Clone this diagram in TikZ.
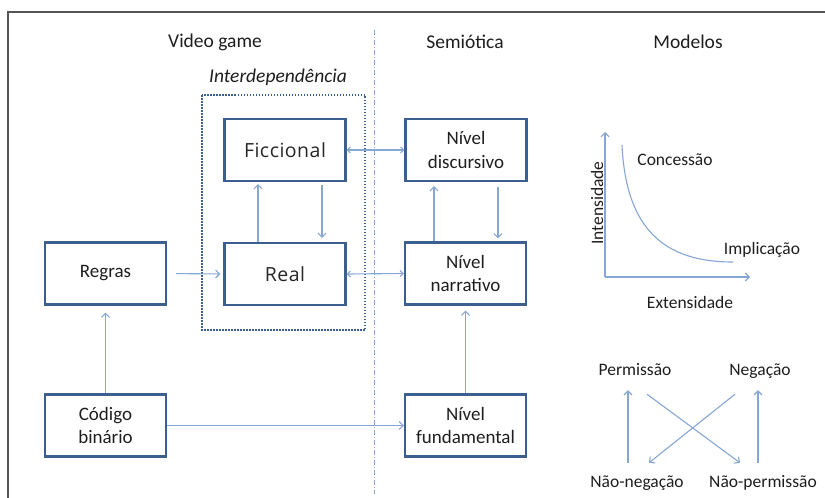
\documentclass[tikz,border=0pt]{standalone}
\usepackage{fontspec}
\setmainfont{Carlito}
\newfontfamily\widefont[LetterSpace=2.5]{Open Sans}
\usetikzlibrary{arrows.meta,calc}
\definecolor{boxblue}{HTML}{3B5F8F}
\definecolor{arrblue}{HTML}{86A6D4}
\definecolor{txt}{HTML}{1E1E1E}
\definecolor{widetxt}{HTML}{262626}
\definecolor{framegray}{HTML}{555555}
\begin{document}
\begin{tikzpicture}[x=1pt,y=-1pt,
  box/.style={draw=boxblue,line width=2.3pt,minimum width=121pt,minimum height=62pt,align=center,
    font=\fontsize{19}{23.5}\selectfont,text=txt,inner sep=0pt},
  widebox/.style={box,text=widetxt,font=\widefont\fontsize{19.5}{23}\selectfont},
  arr/.style={draw=arrblue,line width=1.1pt,-{Straight Barb[length=4pt,width=8pt]}},
  arrtwo/.style={draw=arrblue,line width=1.1pt,{Straight Barb[length=3pt,width=6pt]}-{Straight Barb[length=3pt,width=6pt]}},
  head/.style={text=txt,font=\fontsize{19.5}{22}\selectfont},
  small/.style={text=txt,font=\fontsize{17.5}{20}\selectfont,inner sep=0pt},
  lab/.style={small,anchor=base,text height=12pt,text depth=4pt}]
\useasboundingbox (0,0) rectangle (825,498);
\draw[framegray,line width=1.3pt] (8,498) -- (8,12) -- (825,12);
% separators
\draw[arrblue,line width=1pt,dash pattern=on 5pt off 2pt on 1pt off 2pt] (374,30) -- (374,494);
\draw[boxblue,line width=2pt,dash pattern=on 1.5pt off 1.5pt] (202,95) rectangle (365,330);
% headings
\node[head] (hvg) at (215,42) {Video game};
\node[head] (hsem) at (465,42) {Semiótica};
\node[head] (hmod) at (688,42) {Modelos};
\node[text=txt,font=\fontsize{19.5}{22}\selectfont\itshape] (inter) at (278,77) {Interdependência};
% boxes
\node[box] (regras) at (105.5,273.5) {Regras};
\node[widebox] (real) at (285,274) {Real};
\node[widebox] (fic) at (285,150) {Ficcional};
\node[box] (disc) at (466,150) {Nível\\discursivo};
\node[box] (narr) at (465.5,273.5) {Nível\\narrativo};
\node[box] (codigo) at (105.5,425.5) {Código\\binário};
\node[box] (fund) at (465.5,425.5) {Nível\\fundamental};
% connectors
\coordinate (xa) at (258,0);
\coordinate (xb) at (322,0);
\coordinate (xc) at (434,0);
\coordinate (xd) at (498,0);
\draw[arr,shorten >=7pt] (codigo.north) -- (regras.south);
\draw[arr,shorten <=9pt,shorten >=3pt] (regras.east) -- (real.west);
\draw[arr] (codigo.east) -- (fund.west);
\draw[arr,shorten >=5pt] (fund.north) -- (narr.south);
\draw[arrtwo] (real.east) -- (narr.west);
\draw[arrtwo] (fic.east) -- (disc.west);
\draw[arr,shorten >=2pt] (real.north -| xa) -- (fic.south -| xa);
\draw[arr,shorten <=3pt,shorten >=4pt] (fic.south -| xb) -- (real.north -| xb);
\draw[arr,shorten >=4pt] (narr.north -| xc) -- (disc.south -| xc);
\draw[arr,shorten <=5pt,shorten >=3pt] (disc.south -| xd) -- (narr.north -| xd);
% Modelos: graph
\coordinate (orig) at (605,277);
\coordinate (ytop) at (605,132);
\coordinate (xend) at (750,277);
\draw[arr] (orig) -- (ytop);
\draw[arr] (orig) -- (xend);
\draw[arrblue,line width=1.1pt] (622,145) .. controls (626,230) and (665,262) .. (733,262);
\node[small,rotate=90] (inten) at (597,203) {Intensidade};
\node[small] (conc) at (675,160) {Concessão};
\node[small] (impl) at (762,250) {Implicação};
\node[small] (ext) at (690,302) {Extensidade};
% Modelos: square
\node[lab] (perm) at (635,375) {Permissão};
\node[lab] (neg) at (760,375) {Negação};
\node[lab] (nneg) at (637,487) {Não-negação};
\node[lab] (nperm) at (763,487) {Não-permissão};
\coordinate (cl) at (628,0);
\coordinate (cr) at (758,0);
\draw[arr,shorten <=12pt,shorten >=11pt] (nneg.north -| cl) -- (perm.south -| cl);
\draw[arr,shorten <=12pt,shorten >=11pt] (nperm.north -| cr) -- (neg.south -| cr);
\draw[arr] ($(perm.south)+(12,15)$) -- ($(nperm.north)+(-23,-12)$);
\draw[arr] ($(neg.south)+(-25,15)$) -- ($(nneg.north)+(12,-12)$);
\end{tikzpicture}
\end{document}
